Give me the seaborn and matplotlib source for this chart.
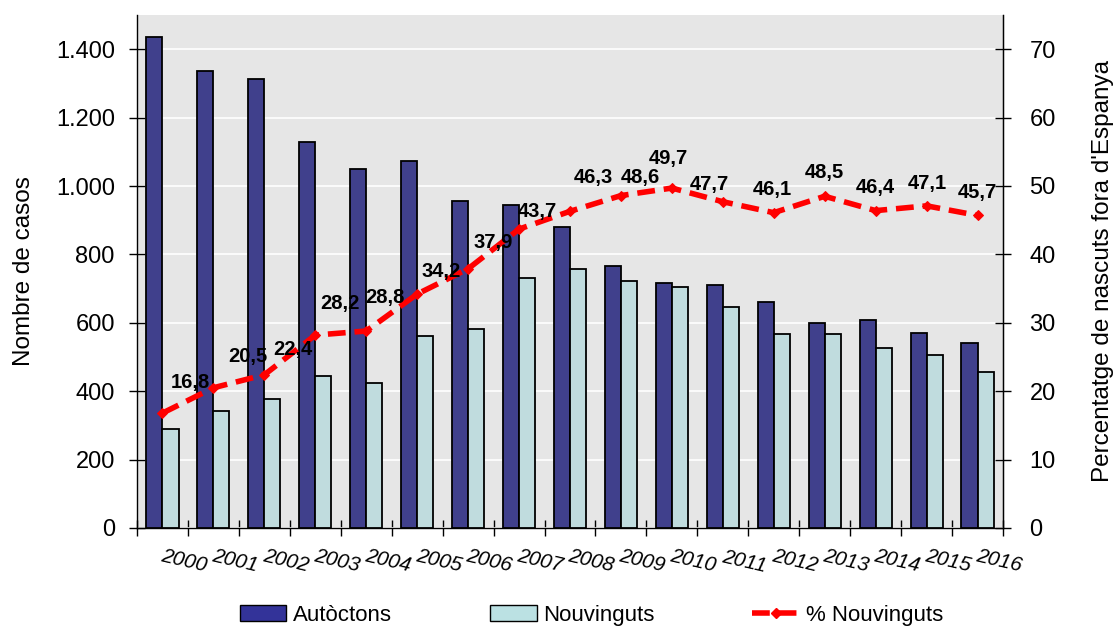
import numpy as np
import pandas as pd
import matplotlib
matplotlib.use("Agg")
import matplotlib.pyplot as plt
from matplotlib.ticker import FuncFormatter, FixedLocator
from matplotlib.patches import Patch
from matplotlib.lines import Line2D
import seaborn as sns

years = ["2000", "2001", "2002", "2003", "2004", "2005", "2006", "2007", "2008",
         "2009", "2010", "2011", "2012", "2013", "2014", "2015", "2016"]
autoctons = [1435, 1335, 1312, 1130, 1050, 1072, 957, 945, 880, 767, 715, 710, 662, 598, 608, 570, 542]
nouvinguts = [290, 343, 378, 445, 425, 560, 583, 732, 757, 722, 705, 645, 568, 567, 527, 507, 457]
pct_nouvinguts = [16.8, 20.5, 22.4, 28.2, 28.8, 34.2, 37.9, 43.7, 46.3, 48.6, 49.7, 47.7, 46.1, 48.5, 46.4, 47.1, 45.7]
pct_labels = ["16,8", "20,5", "22,4", "28,2", "28,8", "34,2", "37,9", "43,7", "46,3",
              "48,6", "49,7", "47,7", "46,1", "48,5", "46,4", "47,1", "45,7"]
series_names = ["Autòctons", "Nouvinguts", "% Nouvinguts"]

# label offsets in pixels (style)
label_offsets = [(28, 31), (34, 31), (29, 25), (25, 32), (19, 34), (24, 23), (25, 26), (18, 18),
                 (23, 34), (19, 18), (-4, 30), (-13, 17), (-1, 23), (0, 24), (0, 23), (1, 22), (0, 23)]

dark = "#333399"
light = "#BBE1E3"
red = "#FF0000"

plt.rcParams['font.family'] = ['Liberation Sans', 'DejaVu Sans']

df = pd.DataFrame({
    "Any": years * 2,
    "Casos": autoctons + nouvinguts,
    "Grup": [series_names[0]] * len(years) + [series_names[1]] * len(years),
})

fig = plt.figure(figsize=(11.18, 6.28), dpi=100)
ax = fig.add_axes([137 / 1118, 100 / 628, (1003 - 137) / 1118, (528 - 15) / 628])
ax.set_facecolor("#E6E6E6")

sns.barplot(data=df, x="Any", y="Casos", hue="Grup", order=years,
            palette={series_names[0]: dark, series_names[1]: light},
            width=0.63, edgecolor="black", linewidth=1.3, ax=ax, legend=False, zorder=3)

ax.set_ylim(0, 1500)
ax.set_xlim(-0.5, len(years) - 0.5)
ax.yaxis.set_major_locator(FixedLocator(np.arange(0, 1401, 200)))
ax.yaxis.set_major_formatter(FuncFormatter(lambda v, p: f"{int(v):,}".replace(",", ".")))
ax.grid(axis="y", color="white", linewidth=1.2, zorder=0)
ax.grid(axis="x", visible=False)
ax.set_axisbelow(True)

# x ticks at category boundaries, labels offset
ax.set_xticks(np.arange(-0.5, len(years), 1.0))
ax.set_xticklabels([])
ax.set_xticks(np.arange(len(years)) + 0.42, minor=True)
ax.set_xticklabels(years, minor=True, rotation=-13, fontstyle="italic", fontsize=15,
                   ha="center", va="center")
ax.tick_params(axis="x", which="minor", length=0, pad=24)
ax.tick_params(axis="x", which="major", direction="inout", length=12, width=1, color="black")
ax.tick_params(axis="y", direction="inout", length=12, width=1, labelsize=17, pad=10, color="black")
ax.set_xlabel("")
ax.set_ylabel("Nombre de casos", fontsize=17.5, labelpad=15)

for s in ["top"]:
    ax.spines[s].set_visible(False)
for s in ["left", "bottom", "right"]:
    ax.spines[s].set_color("black")
    ax.spines[s].set_linewidth(1.0)

ax2 = ax.twinx()
x_idx = np.arange(len(years))
sns.lineplot(x=x_idx, y=pct_nouvinguts, ax=ax2, color=red, linewidth=4,
             linestyle=(0, (3.2, 1.6)), marker="D", markersize=5,
             markeredgecolor=red, markerfacecolor=red, zorder=5)
ax2.set_ylim(0, 75)
ax2.yaxis.set_major_locator(FixedLocator(np.arange(0, 71, 10)))
ax2.tick_params(axis="y", direction="inout", length=12, width=1, labelsize=17, pad=13, color="black")
ax2.set_ylabel("Percentatge de nascuts fora d'Espanya", fontsize=17.5, labelpad=26)
ax2.grid(False)
for s in ["top", "left", "bottom"]:
    ax2.spines[s].set_visible(False)
ax2.spines["right"].set_color("black")

for xi, v, lab, (dx, dy) in zip(x_idx, pct_nouvinguts, pct_labels, label_offsets):
    ax2.annotate(lab, (xi, v), xytext=(dx, dy), textcoords="offset pixels",
                 ha="center", va="center", fontsize=14.5, fontweight="bold", color="black", zorder=6)

handles = [
    Patch(facecolor=dark, edgecolor="black", linewidth=1.0),
    Patch(facecolor=light, edgecolor="black", linewidth=1.0),
    Line2D([0], [0], color=red, linewidth=4, linestyle=(0, (3.2, 1.6)), marker="D",
           markersize=5, markerfacecolor=red, markeredgecolor=red),
]
fig.legend(handles, series_names, loc="center", bbox_to_anchor=(0.529, 0.02), ncol=3,
           frameon=False, fontsize=16, handlelength=2.1, handleheight=0.7, handletextpad=0.3,
           columnspacing=4.4)

fig.savefig("out.png", dpi=100)
